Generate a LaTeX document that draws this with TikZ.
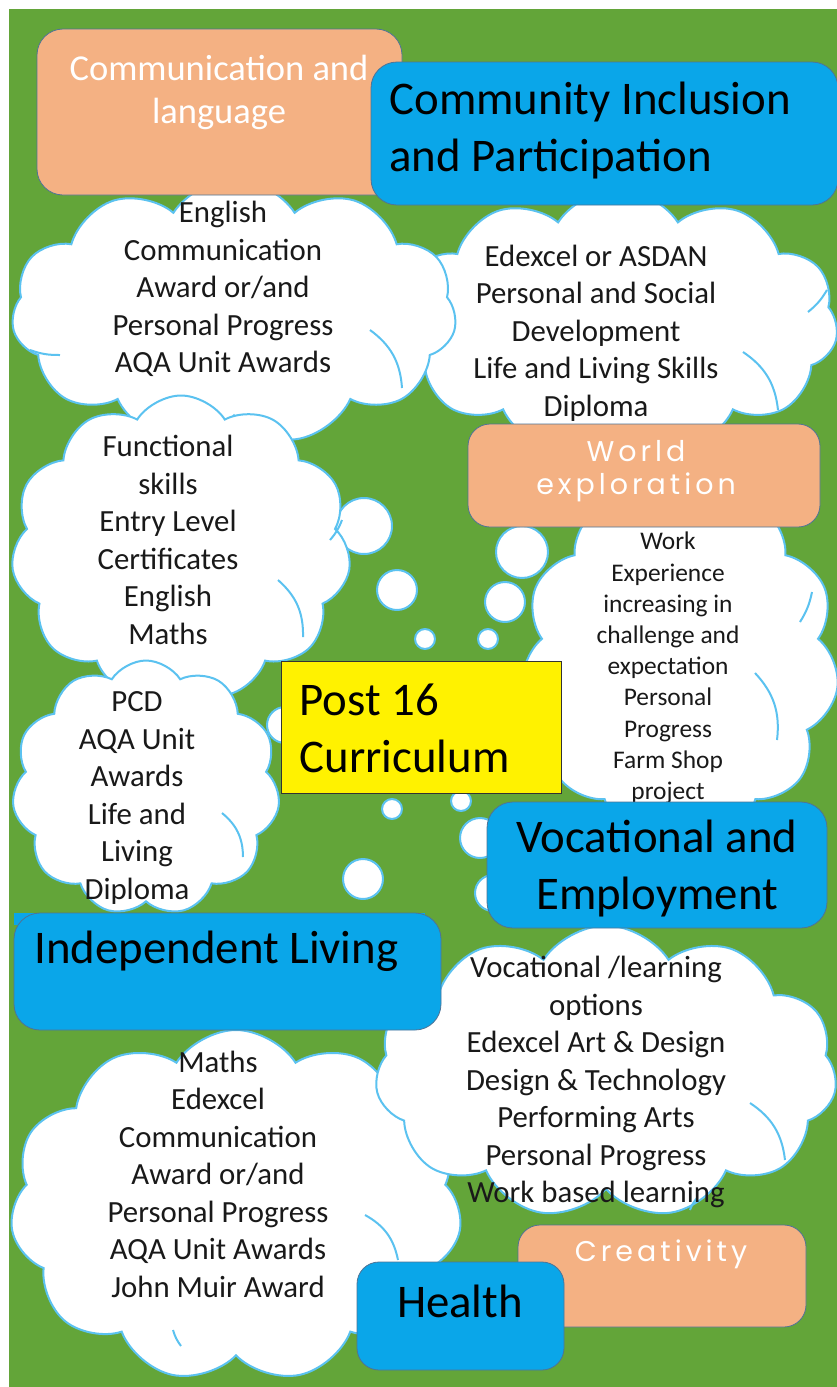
\documentclass[tikz,border=0pt]{standalone}
\usepackage{fontspec}
\setmainfont{Carlito}
\newfontfamily\widefont[LetterSpace=14]{Poppins}
\usetikzlibrary{shapes.symbols}
\definecolor{grass}{HTML}{63A539}
\definecolor{puffline}{HTML}{5BC2F0}
\definecolor{peach}{HTML}{F4B183}
\definecolor{sky}{HTML}{0AA6E9}
\definecolor{edge}{HTML}{4F7396}
\newcommand\cloudtxt{\fontsize{30.8}{37.5}\selectfont}
\newcommand\smalltxt{\fontsize{25.4}{31.2}\selectfont}
\newcommand\headtxt{\fontsize{46.8}{57}\selectfont}
\newcommand\peachtxt{\fontsize{36.5}{43}\selectfont}
\newcommand\widetxt{\widefont\fontsize{28.5}{33}\selectfont}
\begin{document}
\begin{tikzpicture}[x=1pt,y=-1pt,
  puff/.style={cloud, cloud puffs=11, cloud puff arc=115, cloud ignores aspect, draw=puffline, fill=white, line width=2pt, inner sep=0pt},
  bubble/.style={circle, draw=puffline, fill=white, line width=2pt, inner sep=0pt},
  innerarc/.style={draw=puffline, line width=2pt},
  cloudtext/.style={align=center, font=\cloudtxt, text=black!90},
  peachbox/.style={rectangle, rounded corners=26pt, fill=peach, draw=edge, line width=0.8pt},
  skybox/.style={rectangle, rounded corners=26pt, fill=sky, draw=edge, line width=0.8pt},
  headtext/.style={font=\headtxt, text=black}]
  \useasboundingbox[fill=white] (0,0) rectangle (837,1387);
  \fill[grass] (9,9) rectangle (837,1387);
  \clip (9,9) rectangle (837,1387);
  % thought bubbles
  \foreach \bx/\by/\bd [count=\i] in {364/526/56pt, 522/552/52pt, 397/590/40pt, 505/602/40pt,
      425/639/20pt, 488/639/20pt, 392/809/20pt, 461/801/20pt, 363/879/40pt, 480/838/40pt,
      493/893/36pt, 285/725/36pt}
    \node[bubble, minimum size=\bd] (bub\i) at (\bx,\by) {};
  % clouds
  \node[puff, minimum width=440pt, minimum height=265pt] (cloudB) at (618,322) {};
  \draw[innerarc] (743,352) to[bend left=25] (778,410);
  \draw[innerarc] (808,312) to[bend right=10] (827,290);
  \node[puff, minimum width=445pt, minimum height=265pt] (cloudA) at (234,312) {};
  \draw[innerarc] (370,330) to[bend left=25] (402,388);
  \draw[innerarc] (60,355) to[bend left=10] (30,350);
  \node[puff, minimum width=340pt, minimum height=305pt] (cloudC) at (181,548) {};
  \draw[innerarc] (278,580) to[bend left=25] (303,637);
  \draw[innerarc] (330,540) to[bend right=10] (342,520);
  \node[puff, minimum width=268pt, minimum height=255pt] (cloudE) at (146,788) {};
  \draw[innerarc] (222,813) to[bend left=25] (243,857);
  \node[puff, minimum width=318pt, minimum height=356pt] (cloudD) at (680,662) {};
  \draw[innerarc] (755,673) to[bend left=25] (777,740);
  \draw[innerarc] (800,622) to[bend right=10] (812,592);
  \node[puff, minimum width=452pt, minimum height=352pt] (cloudG) at (236,1206) {};
  \draw[innerarc] (365,1215) to[bend left=25] (398,1260);
  \draw[innerarc] (173,1330) to[bend right=10] (181,1346);
  \node[puff, minimum width=462pt, minimum height=293pt] (cloudF) at (606,1072) {};
  \draw[innerarc] (750,1103) to[bend left=25] (785,1160);
  \draw[innerarc] (690,1210) to[bend left=10] (697,1198);
  \node[cloudtext] (txtA) at (223,289) {English\\Communication\\Award or/and\\Personal Progress\\AQA Unit Awards};
  \node[cloudtext] (txtB) at (596,333) {Edexcel or ASDAN\\Personal and Social\\Development\\Life and Living Skills\\Diploma};
  \node[cloudtext] (txtC) at (168,540) {Functional\\skills\\Entry Level\\Certificates\\English\\Maths};
  \node[cloudtext, font=\smalltxt] (txtD) at (668,668) {Work\\Experience\\increasing in\\challenge and\\expectation\\Personal\\Progress\\Farm Shop\\project};
  \node[cloudtext] (txtE) at (137,798) {PCD\\AQA Unit\\Awards\\Life and\\Living\\Diploma};
  \node[cloudtext] (txtF) at (596,1082) {Vocational /learning\\options\\Edexcel Art \& Design\\Design \& Technology\\Performing Arts\\Personal Progress\\Work based learning};
  \node[cloudtext] (txtG) at (218,1174) {Maths\\Edexcel\\Communication\\Award or/and\\Personal Progress\\AQA Unit Awards\\John Muir Award};
  % headings
  \node[peachbox, minimum width=365pt, minimum height=166pt] (commbox) at (219.5,112) {};
  \node[font=\peachtxt, text=white, align=center] (commtxt) at (219,92) {Communication and\\language};
  \node[skybox, minimum width=467pt, minimum height=143pt] (incbox) at (604.5,133.5) {};
  \node[headtext, align=left, anchor=west] (inctxt) at (386,131) {Community Inclusion\\and Participation};
  \node[peachbox, rounded corners=22pt, minimum width=352pt, minimum height=103pt] (worldbox) at (644,475.5) {};
  \node[font=\widetxt, text=white, align=center] (worldtxt) at (636,471) {World\\exploration};
  \node[rectangle, fill=yellow, draw=black!80, line width=1pt, minimum width=280pt, minimum height=132pt] (postbox) at (421,727) {};
  \node[headtext, align=left, anchor=west] (posttxt) at (296,728) {Post 16\\Curriculum};
  \node[skybox, minimum width=340pt, minimum height=126pt] (vocbox) at (657,865) {};
  \node[headtext, align=center] (voctxt) at (657,869) {Vocational and\\Employment};
  \fill[sky] (14,913) rectangle (425,925);
  \node[skybox, minimum width=427pt, minimum height=117pt] (livbox) at (227.5,971.5) {};
  \node[headtext, anchor=west] (livtxt) at (31,951) {Independent Living};
  \node[peachbox, rounded corners=22pt, minimum width=288pt, minimum height=102pt] (creabox) at (662,1276) {};
  \node[font=\widetxt, text=white] (creatxt) at (661,1254) {Creativity};
  \node[skybox, rounded corners=22pt, minimum width=207pt, minimum height=108pt] (healthbox) at (460.5,1316) {};
  \node[headtext] (healthtxt) at (460,1301) {Health};
\end{tikzpicture}
\end{document}
